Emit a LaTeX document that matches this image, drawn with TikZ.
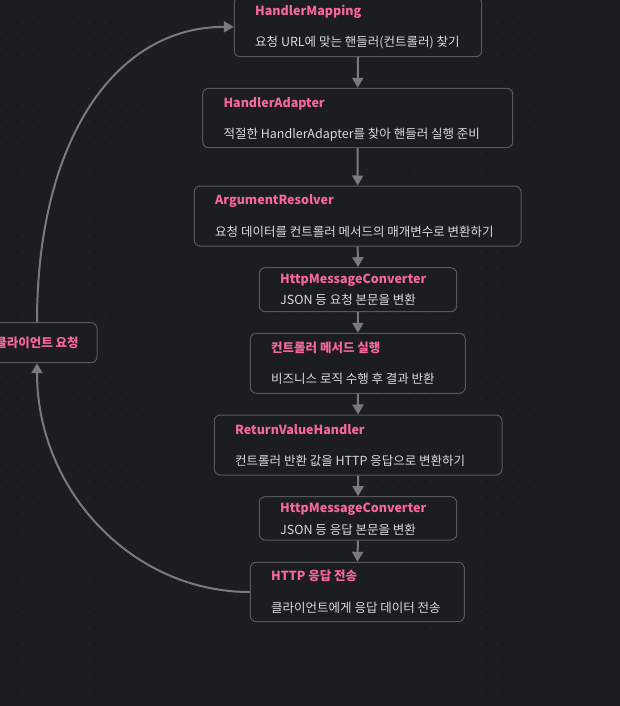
\documentclass[tikz,border=0pt]{standalone}
\usepackage{fontspec}
\setmainfont{Noto Sans CJK KR}
\usetikzlibrary{arrows.meta}
\definecolor{bgcol}{HTML}{1C1D21}
\definecolor{dotcol}{HTML}{2C2D33}
\definecolor{boxline}{HTML}{55585E}
\definecolor{pinkt}{HTML}{F7679A}
\definecolor{bodyt}{HTML}{DADADA}
\definecolor{arrowc}{HTML}{7A7A7A}
\tikzset{
  box/.style={draw=boxline, line width=1pt, rounded corners=6pt, fill=bgcol, inner sep=0pt},
  ttl/.style={anchor=west, inner sep=0pt, text=pinkt, font=\fontsize{12.5}{14}\selectfont\bfseries},
  bdy/.style={anchor=west, inner sep=0pt, text=bodyt, font=\fontsize{12.5}{14}\selectfont},
  flow/.style={draw=arrowc, line width=2pt, -{Triangle[width=11pt,length=10pt]}}
}
\begin{document}
\begin{tikzpicture}[x=1pt,y=-1pt]
\fill[bgcol] (0,0) rectangle (620,706);
\useasboundingbox (0,0) rectangle (620,706);
\foreach \i in {0,...,38}{
  \foreach \j in {0,...,43}{
    \fill[dotcol] ({7+16.33*\i},{6.4+16.36*\j}) circle (0.75pt);
  }
}
% boxes
\node[box, minimum width=247.4pt, minimum height=59.7pt] (hm) at (358,26.85) {};
\node[box, minimum width=310pt, minimum height=59.4pt] (ha) at (357.7,118) {};
\node[box, minimum width=326.7pt, minimum height=60pt] (ar) at (357.65,216) {};
\node[box, minimum width=197.4pt, minimum height=44pt] (hc1) at (358,289.7) {};
\node[box, minimum width=215pt, minimum height=60pt] (cm) at (357.8,363.3) {};
\node[box, minimum width=287.7pt, minimum height=60pt] (rv) at (358.15,445) {};
\node[box, minimum width=197.4pt, minimum height=43.3pt] (hc2) at (358,518.35) {};
\node[box, minimum width=214pt, minimum height=59.4pt] (hs) at (357.3,592) {};
\node[box, minimum width=120pt, minimum height=40pt, text=pinkt, font=\fontsize{12.5}{14}\selectfont\bfseries] (client) at (37,342.7) {클라이언트 요청};
% texts
\node[ttl] (hmT) at (255,12) {HandlerMapping};
\node[bdy] (hmB) at (255,43) {요청 URL에 맞는 핸들러(컨트롤러) 찾기};
\node[ttl] (haT) at (223.3,103.3) {HandlerAdapter};
\node[bdy] (haB) at (223.3,135) {적절한 HandlerAdapter를 찾아 핸들러 실행 준비};
\node[ttl] (arT) at (215,200.7) {ArgumentResolver};
\node[bdy] (arB) at (215,231.7) {요청 데이터를 컨트롤러 메서드의 매개변수로 변환하기};
\node[ttl] (hc1T) at (280,280) {HttpMessageConverter};
\node[bdy] (hc1B) at (280,300) {JSON 등 요청 본문을 변환};
\node[ttl] (cmT) at (271,348.3) {컨트롤러 메서드 실행};
\node[bdy] (cmB) at (271,378.3) {비즈니스 로직 수행 후 결과 반환};
\node[ttl] (rvT) at (235,429.3) {ReturnValueHandler};
\node[bdy] (rvB) at (235,461) {컨트롤러 반환 값을 HTTP 응답으로 변환하기};
\node[ttl] (hc2T) at (280,509.3) {HttpMessageConverter};
\node[bdy] (hc2B) at (280,529.3) {JSON 등 응답 본문을 변환};
\node[ttl] (hsT) at (271,576) {HTTP 응답 전송};
\node[bdy] (hsB) at (271,608.3) {클라이언트에게 응답 데이터 전송};
% connectors
\draw[flow] (hm.south) -- (ha.north);
\draw[flow] (ha.south) -- (ar.north);
\draw[flow] (ar.south) -- (hc1.north);
\draw[flow] (hc1.south) -- (cm.north);
\draw[flow] (cm.south) -- (rv.north);
\draw[flow] (rv.south) -- (hc2.north);
\draw[flow] (hc2.south) -- (hs.north);
\draw[flow] (hs.west) .. controls +(-118,0) and +(0,127) .. (client.south);
\draw[flow] (client.north) .. controls +(0,-180) and +(-120,0) .. (hm.west);
\end{tikzpicture}
\end{document}
